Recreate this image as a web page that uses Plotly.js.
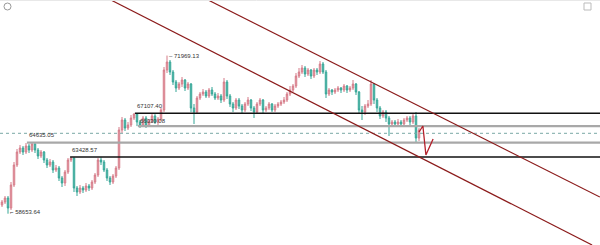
<!DOCTYPE html>
<html><head><meta charset="utf-8">
<script src="https://cdn.plot.ly/plotly-3.0.1.min.js"></script>
<style>html,body{margin:0;padding:0;background:#fff}#chart{width:600px;height:245px}</style>
</head><body><div id="chart"></div>
<script>
// Candle values (one candle per ~3px)
const openP = [59386,59639,59975,59133,61070,62754,63849,64185,63849,64354,
64017,64522,64017,63512,63849,63175,62754,63007,62333,62501,
61659,61238,62165,63175,63343,60817,60481,60817,60649,60986,
60817,61323,61912,63175,63007,62333,61659,61323,61828,62501,
65701,66543,65869,66122,66711,67048,66375,66122,66711,66038,
66459,66880,66375,66627,67385,70753,71427,70585,69743,69237,
69574,69911,69237,69574,67553,67217,68395,68732,68901,68564,
69069,68732,68395,68564,68227,69743,68564,67890,67553,68227,
67722,67385,67890,68227,67553,67217,67890,68227,67385,67553,
67890,67385,67722,67890,68059,68227,68732,69069,69406,70248,
70585,70921,70416,70753,70248,70753,70585,71258,70585,68732,
69069,68901,69069,69237,69069,69406,69069,69237,69574,68901,
67385,67217,67722,67890,69574,68227,67553,66880,67217,66711,
66206,66375,66206,66375,66206,66543,66711,66375,66880,65027];
const closeP = [59639,59975,59133,61070,62754,63849,64185,63849,64354,64017,
64522,64017,63512,63849,63175,62754,63007,62333,62501,61659,
61238,62165,63175,63343,60817,60481,60817,60649,60986,60817,
61323,61912,63175,63007,62333,61659,61323,61828,62501,65701,
66543,65869,66122,66711,67048,66375,66122,66711,66038,66459,
66880,66375,66627,67385,70753,71427,70585,69743,69237,69574,
69911,69237,69574,67553,67217,68395,68732,68901,68564,69069,
68732,68395,68564,68227,69743,68564,67890,67553,68227,67722,
67385,67890,68227,67553,67217,67890,68227,67385,67553,67890,
67385,67722,67890,68059,68227,68732,69069,69406,70248,70585,
70921,70416,70753,70248,70753,70585,71258,70585,68732,69069,
68901,69069,69237,69069,69406,69069,69237,69574,68901,67385,
67217,67722,67890,69574,68227,67553,66880,67217,66711,66206,
66375,66206,66375,66206,66543,66711,66375,66880,65027,65701];
const highP = [59807,60144,60144,61323,63007,64101,64438,64354,64606,64522,
64635.05,64606,64185,64017,63933,63343,63259,63175,62754,62670,
61828,62333,63343,63428.57,63400,60986,61070,60986,61238,61154,
61491,62080,63343,63410,63175,62501,61828,61996,62670,65954,
66796,66711,66375,66964,67107.40,67090,66543,66880,66880,66627,
67050,67040,66796,67553,71006,71969.13,71595,70753,69911,69743,
70164,69995,69743,69658,67890,68564,68901,69153,69069,69237,
69322,68901,68816,68732,70079,69911,68732,68059,68395,68395,
67890,68059,68480,68311,67722,68059,68395,68311,67722,68059,
67974,67890,68059,68227,68480,68901,69406,69574,70500,70921,
71174,71090,70921,70837,70921,70921,71511,71427,70753,69237,
69153,69237,69406,69322,69574,69490,69406,69911,69658,68985,
67722,67890,68227,69911,69658,68395,67722,67385,67385,66880,
66543,66543,66627,66543,66711,66880,66880,67048,67217,65869];
const lowP = [59218,59470,58653.64,58965,60902,62586,63680,63596,63680,63764,
63849,63764,63259,63343,62922,62501,62586,62080,62165,61407,
60902,60986,61996,63007,60481,60144,60312,60396,60481,60565,
60649,61154,61744,62754,62165,61407,61070,61154,61659,62333,
65448,65617,65701,65954,66543,66030.08,65869,65954,65869,65954,
66290,66206,66122,66459,67217,70500,70332,69490,68901,69069,
69322,68985,69069,67217,66206,67048,68227,68564,68395,68395,
68564,68227,68227,67974,68059,68311,67638,67217,67385,67469,
67132,67217,67722,67301,66711,67048,67722,67132,67217,67385,
67217,67217,67553,67722,67890,68059,68564,68901,69237,70079,
70416,70164,70248,69995,70079,70332,70416,70416,68395,68564,
68648,68732,68901,68816,68901,68816,68901,69069,68648,67132,
66543,66964,67553,67722,67890,67217,66627,66711,66375,65196,
66038,65954,66038,65954,66038,66375,66122,66206,64691,64775];

// Marked price levels
const levelValues = [67107.40, 66030.08, 64635.05, 63428.57];
const levelLabels = ['67107.40', '66030.08', '64635.05', '63428.57'];
const levelStartIdx = [44.3, 45.3, 8.3, 22.7];
const lastPrice = 65423;
const highLabel = '71969.13';
const lowLabel = '58653.64';

// Channel lines (candle index, price)
const chanUpperX = [68.7, 199.3];
const chanUpperY = [76647, 60060];
const chanLowerX = [36.3, 196.7];
const chanLowerY = [76647, 56018];

// Hand-drawn projection
const projX = [139, 140.3, 141.3, 143.7];
const projY = [65533, 66038, 63596, 64943];

// ---- layout helpers (pixel -> axis) ----
const W = 600, H = 245;
const xRange = [-0.667, 199.333];
const yRange = [56018, 76647];
const px2x = p => xRange[0] + p / W * (xRange[1] - xRange[0]);
const py2y = p => yRange[1] - p / H * (yRange[1] - yRange[0]);

const idx = openP.map((_, i) => i);
const traces = [];

traces.push({
  type: 'scatter', mode: 'lines', x: xRange, y: [lastPrice, lastPrice],
  line: {color: '#7aa8a5', width: 1, dash: 'dot'}, hoverinfo: 'skip'
});

traces.push({
  type: 'candlestick', x: idx, open: openP, high: highP, low: lowP, close: closeP,
  increasing: {line: {color: '#d57b88', width: 1}, fillcolor: '#f1b2bb'},
  decreasing: {line: {color: '#35a596', width: 1}, fillcolor: '#6fcbbd'},
  whiskerwidth: 0, hoverinfo: 'skip'
});

const levelStyles = [
  {color: '#111', width: 1.4},
  {color: '#a8a8a8', width: 2.2},
  {color: '#a8a8a8', width: 2.2},
  {color: '#111', width: 1.4}
];
levelValues.forEach((v, k) => {
  traces.push({
    type: 'scatter', mode: 'lines', x: [levelStartIdx[k], xRange[1] + 1], y: [v, v],
    line: levelStyles[k], hoverinfo: 'skip'
  });
});

traces.push({type: 'scatter', mode: 'lines', x: chanUpperX, y: chanUpperY,
  line: {color: '#8b1a1a', width: 1.2}, hoverinfo: 'skip'});
traces.push({type: 'scatter', mode: 'lines', x: chanLowerX, y: chanLowerY,
  line: {color: '#8b1a1a', width: 1.2}, hoverinfo: 'skip'});
traces.push({type: 'scatter', mode: 'lines', x: projX, y: projY,
  line: {color: '#b3202a', width: 1.3}, hoverinfo: 'skip'});

const lf = {family: 'Liberation Sans, Arial, sans-serif', size: 6, color: '#333'};
const annots = [
  {text: '– ' + highLabel, x: px2x(167), y: py2y(56)},
  {text: levelLabels[0], x: px2x(135), y: py2y(106)},
  {text: levelLabels[1], x: px2x(138), y: py2y(121)},
  {text: levelLabels[2], x: px2x(27), y: py2y(135)},
  {text: levelLabels[3], x: px2x(70), y: py2y(150)},
  {text: '⌐ ' + lowLabel, x: px2x(8), y: py2y(212)}
].map(a => Object.assign(a, {xref: 'x', yref: 'y', showarrow: false, xanchor: 'left',
  yanchor: 'middle', font: lf}));

const shapes = [
  {type: 'circle', xref: 'paper', yref: 'paper', x0: 4/W, x1: 11/W, y0: 1 - 10/H, y1: 1 - 3/H,
   line: {color: '#999', width: 1}},
  {type: 'rect', xref: 'paper', yref: 'paper', x0: 584/W, x1: 591/W, y0: 1 - 10/H, y1: 1 - 3/H,
   line: {color: '#bbb', width: 1}},
  {type: 'line', xref: 'paper', yref: 'paper', x0: 0, x1: 1, y0: 1 - 0.5/H, y1: 1 - 0.5/H,
   line: {color: '#e8e8e8', width: 1}}
];

Plotly.newPlot('chart', traces, {
  width: W, height: H, margin: {l: 0, r: 0, t: 0, b: 0},
  paper_bgcolor: '#fff', plot_bgcolor: '#fff', showlegend: false,
  xaxis: {range: xRange, visible: false, rangeslider: {visible: false}, fixedrange: true},
  yaxis: {range: yRange, visible: false, fixedrange: true},
  annotations: annots, shapes: shapes
}, {staticPlot: true, displayModeBar: false});
</script></body></html>
